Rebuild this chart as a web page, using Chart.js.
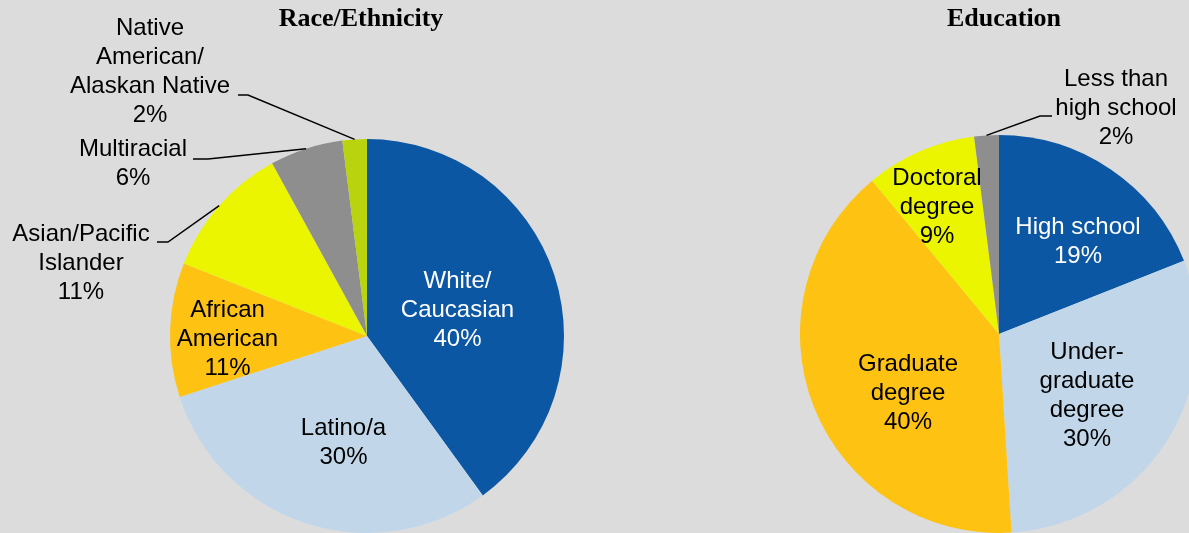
<!DOCTYPE html>
<html>
<head>
<meta charset="utf-8">
<script src="https://cdn.jsdelivr.net/npm/chart.js@4/dist/chart.umd.min.js"></script>
<style>
  html, body { margin: 0; padding: 0; width: 1189px; height: 533px; overflow: hidden; background: #dcdcdc; }
  #wrap { position: relative; width: 1189px; height: 533px; overflow: hidden; }
  canvas { position: absolute; top: 0; }
  .title { position: absolute; top: 3px; font-family: "Liberation Serif", "Times New Roman", serif; font-weight: bold; font-size: 26px; line-height: 30px; color: #000; transform: translateX(-50%); white-space: nowrap; }
</style>
</head>
<body>
<div id="wrap">
  <canvas id="raceChart" width="734" height="533" style="left:0px;width:734px;height:533px;"></canvas>
  <canvas id="eduChart" width="800" height="533" style="left:600px;width:800px;height:533px;"></canvas>
  <div class="title" style="left:361px;">Race/Ethnicity</div>
  <div class="title" style="left:1004px;">Education</div>
</div>
<script>
// ---- Data ----
const raceCategories = ["White/\nCaucasian", "Latino/a", "African\nAmerican", "Asian/Pacific\nIslander", "Multiracial", "Native\nAmerican/\nAlaskan Native"];
const raceValues = [40, 30, 11, 11, 6, 2];
const raceColors = ["#0b57a4", "#c1d7e9", "#fec213", "#ebf500", "#8e8e8e", "#b9d30f"];

const eduCategories = ["High school", "Under-\ngraduate\ndegree", "Graduate\ndegree", "Doctoral\ndegree", "Less than\nhigh school"];
const eduValues = [19, 30, 40, 9, 2];
const eduColors = ["#0b57a4", "#c1d7e9", "#fec213", "#ebf500", "#8e8e8e"];

// ---- Label layout (offsets from pie centre, in radius units) ----
const raceLabelLayout = [
  { pos: [0.4594, -0.1320], color: "#ffffff" },
  { pos: [-0.1193, 0.5406], color: "#000000" },
  { pos: [-0.7081, 0.0152], color: "#000000" },
  { pos: [-1.4518, -0.3680], color: "#000000", leader: [[-1.066, -0.4772], [-1.0102, -0.4772]] },
  { pos: [-1.1878, -0.8731], color: "#000000", leader: [[-0.8832, -0.8985], [-0.8071, -0.8985]] },
  { pos: [-1.1015, -1.3426], color: "#000000", leader: [[-0.6548, -1.2234], [-0.6041, -1.2234]] }
];
const eduLabelLayout = [
  { pos: [0.397, -0.4623], color: "#ffffff" },
  { pos: [0.4422, 0.3116], color: "#000000" },
  { pos: [-0.4573, 0.299], color: "#000000" },
  { pos: [-0.3116, -0.6357], color: "#000000" },
  { pos: [0.5879, -1.1332], color: "#000000", leader: [[0.2663, -1.0955], [0.206, -1.0955]] }
];

const FONT = '24px "Liberation Sans", Arial, sans-serif';
const LINE_H = 29;

const pieLabels = {
  id: 'pieLabels',
  afterDatasetsDraw(chart, args, opts) {
    const ctx = chart.ctx;
    const meta = chart.getDatasetMeta(0);
    const cats = chart.data.labels;
    const vals = chart.data.datasets[0].data;
    const layout = opts.layout;
    meta.data.forEach((arc, i) => {
      const p = arc.getProps(['x', 'y', 'startAngle', 'endAngle', 'outerRadius'], true);
      const r = p.outerRadius;
      const L = layout[i];
      const lx = p.x + L.pos[0] * r;
      const ly = p.y + L.pos[1] * r;
      if (L.leader) {
        const mid = (p.startAngle + p.endAngle) / 2;
        const ex = p.x + Math.cos(mid) * r;
        const ey = p.y + Math.sin(mid) * r;
        ctx.save();
        ctx.strokeStyle = "#000";
        ctx.lineWidth = 1.5;
        ctx.beginPath();
        ctx.moveTo(p.x + L.leader[0][0] * r, p.y + L.leader[0][1] * r);
        ctx.lineTo(p.x + L.leader[1][0] * r, p.y + L.leader[1][1] * r);
        ctx.lineTo(ex, ey);
        ctx.stroke();
        ctx.restore();
      }
      const lines = cats[i].split("\n").concat([vals[i] + "%"]);
      ctx.save();
      ctx.font = FONT;
      ctx.fillStyle = L.color;
      ctx.textAlign = "center";
      ctx.textBaseline = "middle";
      const top = ly - (lines.length - 1) * LINE_H / 2;
      lines.forEach((t, k) => ctx.fillText(t, lx, top + k * LINE_H));
      ctx.restore();
    });
  }
};

function makePie(id, cats, vals, colors, layout, padding) {
  return new Chart(document.getElementById(id), {
    type: 'pie',
    data: {
      labels: cats,
      datasets: [{ data: vals, backgroundColor: colors, borderWidth: 0, hoverOffset: 0 }]
    },
    options: {
      responsive: false,
      animation: false,
      events: [],
      layout: { padding: padding },
      plugins: {
        legend: { display: false },
        tooltip: { enabled: false },
        title: { display: false },
        pieLabels: { layout: layout }
      }
    },
    plugins: [pieLabels]
  });
}

makePie('raceChart', raceCategories, raceValues, raceColors, raceLabelLayout, { left: 170, right: 170, top: 139, bottom: 0 });
makePie('eduChart', eduCategories, eduValues, eduColors, eduLabelLayout, { left: 200, right: 202, top: 135, bottom: 0 });
</script>
</body>
</html>
